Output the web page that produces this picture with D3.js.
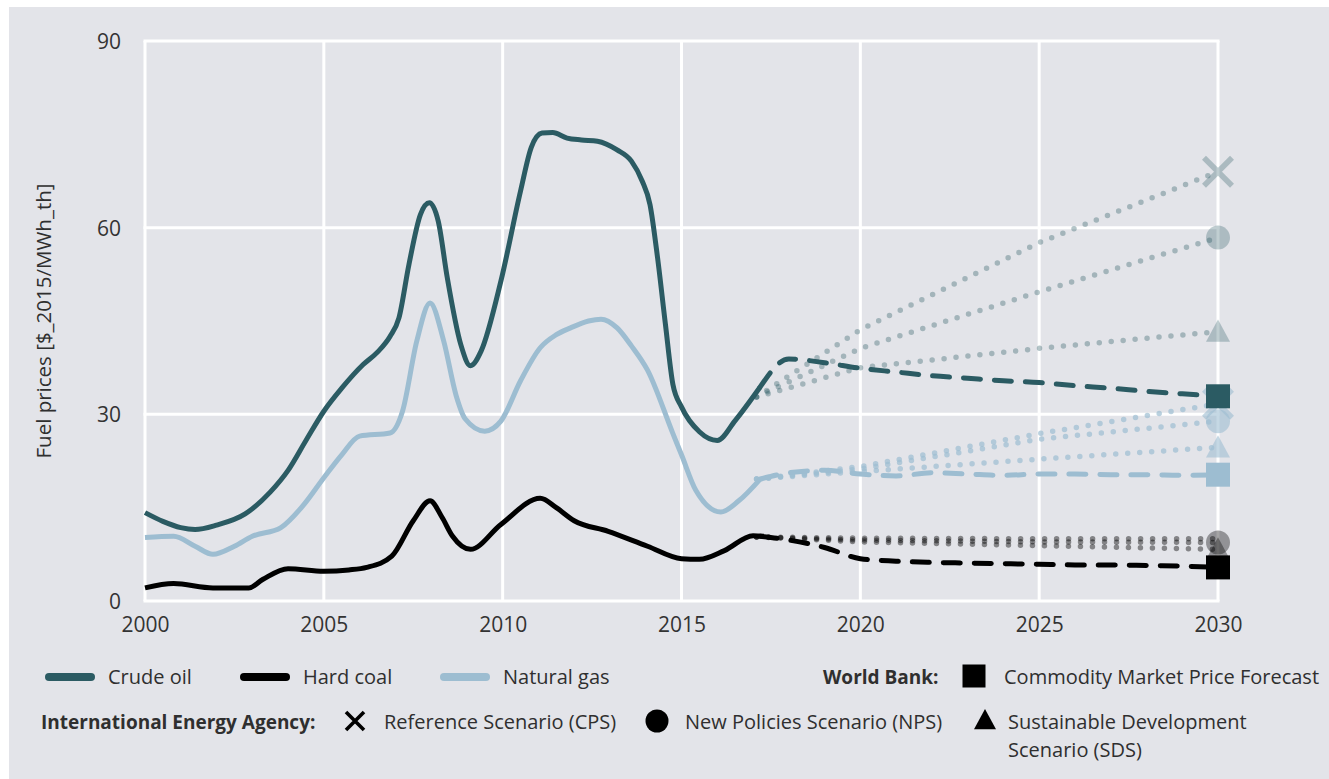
<!DOCTYPE html>
<html>
<head>
<meta charset="utf-8">
<script src="https://cdn.jsdelivr.net/npm/d3@7"></script>
<style>
  body { margin: 0; background: #fff; }
  text { font-family: "Open Sans", sans-serif; fill: #2f2f2f; }
</style>
</head>
<body>
<svg id="chart" width="1329" height="779"></svg>
<script>
// historical prices, [year, $_2015/MWh_th]
const crudeHist = [[2000.0,14.2],[2000.5,12.8],[2001.0,11.8],[2001.4,11.5],[2002.0,12.2],[2002.8,14.0],[2003.5,17.5],[2004.0,21.0],
  [2004.5,25.8],[2005.0,30.5],[2005.5,34.2],[2006.1,38.0],[2006.5,40.0],[2006.85,42.5],[2007.1,45.5],[2007.38,54.1],[2007.7,62.1],
  [2007.95,64.0],[2008.2,61.0],[2008.45,52.0],[2008.83,41.2],[2009.1,37.8],[2009.4,40.2],[2009.95,51.4],[2010.5,65.9],[2010.8,72.9],
  [2011.1,75.2],[2011.4,75.3],[2011.8,74.4],[2012.2,74.1],[2012.65,73.9],[2013.2,72.5],[2013.6,70.7],[2013.9,67.5],[2014.12,63.7],
  [2014.33,55.2],[2014.55,44.5],[2014.76,34.8],[2015.0,31.2],[2015.5,27.2],[2016.0,25.8],[2016.5,29.0],[2017.2,34.4]];
const coalHist = [[2000.0,2.1],[2000.8,2.8],[2001.9,2.1],[2002.9,2.1],[2003.3,3.5],[2004.0,5.2],[2005.0,4.8],[2005.7,5.0],[2006.2,5.4],
  [2006.9,7.2],[2007.5,12.9],[2007.97,16.1],[2008.3,13.5],[2008.6,10.4],[2009.1,8.3],[2009.95,12.3],[2011.05,16.5],[2011.5,15.0],
  [2012.0,12.9],[2012.95,11.2],[2014.05,8.8],[2015.0,6.8],[2015.5,6.7],[2016.2,8.1],[2017.0,10.5],[2017.3,10.4]];
const gasHist = [[2000.0,10.2],[2000.8,10.4],[2001.4,8.8],[2001.9,7.5],[2002.5,8.8],[2003.0,10.4],[2003.8,11.8],[2004.4,15.2],[2005.0,19.8],
  [2005.5,23.5],[2006.0,26.5],[2006.85,27.0],[2007.2,30.5],[2007.6,41.8],[2007.97,47.9],[2008.35,41.8],[2008.7,33.0],[2008.95,29.3],
  [2009.5,27.3],[2009.95,28.9],[2010.5,35.4],[2011.05,40.7],[2011.5,42.8],[2011.9,43.9],[2012.4,45.0],[2012.75,45.3],[2013.2,43.9],
  [2013.6,41.0],[2014.05,37.1],[2014.76,26.9],[2015.0,23.5],[2015.4,17.8],[2016.1,14.3],[2016.6,16.1],[2017.2,19.6]];

// World Bank commodity market price forecast
const wbYears = [2017.2,2018,2019,2020,2021,2022,2023,2024,2025,2026,2027,2028,2029,2030];
const wbCrude = [34.4,38.9,38.3,37.4,36.8,36.2,35.8,35.4,35.1,34.6,34.2,33.7,33.3,32.9];
const wbCoal  = [10.4,9.8,8.6,6.8,6.4,6.2,6.1,6.0,5.9,5.8,5.8,5.7,5.6,5.4];
const wbGas   = [19.6,20.6,21.0,20.4,20.1,20.6,20.4,20.2,20.4,20.4,20.3,20.3,20.2,20.3];

// IEA scenarios (coal has no reference scenario marker shown)
const ieaYears = [2017.1,2020,2025,2030];
const ieaCrude = { cps: [32.8,43.6,57.6,69.0], nps: [32.8,40.6,49.7,58.4], sds: [32.8,37.5,40.6,43.3] };
const ieaCoal  = { cps: [10.3,10.1,10.0,10.0], nps: [10.3,9.8,9.5,9.4], sds: [10.3,9.5,8.9,8.3] };
const ieaGas   = { cps: [19.6,21.6,26.9,31.7], nps: [19.6,21.2,26.0,28.9], sds: [19.6,20.8,22.8,24.7] };

const yTicks = [0, 30, 60, 90];
const xTicks = [2000, 2005, 2010, 2015, 2020, 2025, 2030];

const colors = { crude: '#2b5b63', coal: '#000000', gas: '#9dbdd1' };
const ieaAlpha = { crude: 0.35, coal: 0.42, gas: 0.7 };

const svg = d3.select('#chart');
svg.append('rect').attr('x', 9).attr('y', 7).attr('width', 1320).attr('height', 772).attr('fill', '#e3e4e9');

const x = d3.scaleLinear().domain([2000, 2030]).range([145, 1218]);
const y = d3.scaleLinear().domain([0, 90]).range([601, 41]);

// grid
const grid = svg.append('g');
grid.selectAll('.vg').data(xTicks).enter().append('line')
  .attr('x1', d => x(d)).attr('x2', d => x(d)).attr('y1', y(90)).attr('y2', y(0))
  .attr('stroke', '#fff').attr('stroke-width', 3);
grid.selectAll('.hg').data(yTicks).enter().append('line')
  .attr('x1', x(2000) - 1.5).attr('x2', x(2030) + 1.5).attr('y1', d => y(d)).attr('y2', d => y(d))
  .attr('stroke', '#fff').attr('stroke-width', 3);

// axes (labels only)
const yAxis = svg.append('g').attr('transform', 'translate(' + (x(2000) - 24) + ',0)')
  .call(d3.axisLeft(y).tickValues(yTicks).tickSize(0).tickPadding(0));
const xAxis = svg.append('g').attr('transform', 'translate(0,' + (y(0) + 12) + ')')
  .call(d3.axisBottom(x).tickValues(xTicks).tickFormat(d3.format('d')).tickSize(0).tickPadding(0));
[yAxis, xAxis].forEach(a => {
  a.select('.domain').remove();
  a.selectAll('text').attr('font-size', 21).style('fill', '#333').attr('font-family', '"Open Sans", sans-serif');
});
yAxis.selectAll('text').attr('dy', '0.35em');
xAxis.selectAll('text').attr('dy', '0.9em');

svg.append('text')
  .attr('transform', 'translate(51,' + ((y(0) + y(90)) / 2) + ') rotate(-90)')
  .attr('text-anchor', 'middle').attr('font-size', 20.5).text('Fuel prices [$_2015/MWh_th]');

const line = d3.line().x(d => x(d[0])).y(d => y(d[1]));
const smooth = d3.line().x(d => x(d[0])).y(d => y(d[1])).curve(d3.curveMonotoneX);

const plot = svg.append('g');

const fuels = [
  { key: 'crude', hist: crudeHist, wb: wbCrude, iea: ieaCrude, marks: ['cps', 'nps', 'sds'] },
  { key: 'gas', hist: gasHist, wb: wbGas, iea: ieaGas, marks: ['cps', 'nps', 'sds'] },
  { key: 'coal', hist: coalHist, wb: wbCoal, iea: ieaCoal, marks: ['nps', 'sds'] }
];

function marker(g, type, cx, cy, size, color, opacity) {
  if (type === 'cps') {
    const h = size / 2;
    g.append('path').attr('d', 'M' + (cx - h) + ',' + (cy - h) + 'L' + (cx + h) + ',' + (cy + h) + 'M' + (cx - h) + ',' + (cy + h) + 'L' + (cx + h) + ',' + (cy - h))
      .attr('stroke', color).attr('stroke-width', size * 0.2).attr('opacity', opacity);
  } else if (type === 'nps') {
    g.append('circle').attr('cx', cx).attr('cy', cy).attr('r', size / 2).attr('fill', color).attr('opacity', opacity);
  } else if (type === 'sds') {
    const h = size / 2;
    g.append('path').attr('d', 'M' + cx + ',' + (cy - h) + 'L' + (cx + h) + ',' + (cy + h * 0.85) + 'L' + (cx - h) + ',' + (cy + h * 0.85) + 'Z')
      .attr('fill', color).attr('opacity', opacity);
  } else {
    g.append('rect').attr('x', cx - size / 2).attr('y', cy - size / 2).attr('width', size).attr('height', size)
      .attr('fill', color).attr('opacity', opacity);
  }
}

// IEA dotted lines + markers
fuels.forEach(f => {
  ['cps', 'nps', 'sds'].forEach(s => {
    const pts = ieaYears.map((yr, i) => [yr, f.iea[s][i]]);
    plot.append('path').attr('d', line(pts)).attr('fill', 'none')
      .attr('stroke', colors[f.key]).attr('stroke-opacity', ieaAlpha[f.key])
      .attr('stroke-width', 5.5).attr('stroke-linecap', 'round').attr('stroke-dasharray', '0 12');
    if (f.marks.includes(s))
      marker(plot, s, x(2030), y(f.iea[s][3]), s === 'cps' ? 28 : 24, colors[f.key], ieaAlpha[f.key] * 0.85);
  });
});

// history solid, World Bank dashed
fuels.forEach(f => {
  plot.append('path').attr('d', smooth(f.hist)).attr('fill', 'none')
    .attr('stroke', colors[f.key]).attr('stroke-width', 5).attr('stroke-linejoin', 'round');
  const wbPts = wbYears.map((yr, i) => [yr, f.wb[i]]);
  plot.append('path').attr('d', smooth(wbPts)).attr('fill', 'none')
    .attr('stroke', colors[f.key]).attr('stroke-width', 5).attr('stroke-linecap', 'round')
    .attr('stroke-dasharray', '17 14');
  marker(plot, 'wb', x(2030), y(f.wb[f.wb.length - 1]), 24, colors[f.key], 1);
});

// legend
const leg = svg.append('g');
const row1 = 684, row2 = 729;
[['crude', 'Crude oil', 45], ['coal', 'Hard coal', 240], ['gas', 'Natural gas', 440]].forEach(d => {
  leg.append('line').attr('x1', d[2] + 4).attr('x2', d[2] + 46).attr('y1', row1 - 7).attr('y2', row1 - 7)
    .attr('stroke', colors[d[0]]).attr('stroke-width', 8).attr('stroke-linecap', 'round');
  leg.append('text').attr('x', d[2] + 63).attr('y', row1).attr('font-size', 20).text(d[1]);
});
leg.append('text').attr('x', 823).attr('y', row1).attr('font-size', 19).attr('font-weight', 'bold').text('World Bank:');
marker(leg, 'wb', 974, row1 - 8, 23, '#000', 1);
leg.append('text').attr('x', 1004).attr('y', row1).attr('font-size', 20).text('Commodity Market Price Forecast');

leg.append('text').attr('x', 41).attr('y', row2).attr('font-size', 19).attr('font-weight', 'bold').text('International Energy Agency:');
marker(leg, 'cps', 355, row2 - 8, 18, '#000', 1);
leg.append('text').attr('x', 384).attr('y', row2).attr('font-size', 20).text('Reference Scenario (CPS)');
marker(leg, 'nps', 657, row2 - 8, 23, '#000', 1);
leg.append('text').attr('x', 685).attr('y', row2).attr('font-size', 20).text('New Policies Scenario (NPS)');
marker(leg, 'sds', 985, row2 - 9, 22, '#000', 1);
leg.append('text').attr('x', 1008).attr('y', row2).attr('font-size', 20).text('Sustainable Development');
leg.append('text').attr('x', 1008).attr('y', row2 + 28).attr('font-size', 20).text('Scenario (SDS)');
</script>
</body>
</html>
